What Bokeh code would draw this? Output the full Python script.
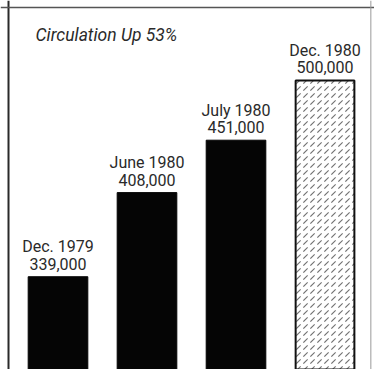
from bokeh.plotting import figure
from bokeh.models import Range1d, Label, ColumnDataSource, Span
from bokeh.core.properties import value
from bokeh.embed import file_html
from bokeh.resources import INLINE

periods = ["Dec. 1979", "June 1980", "July 1980", "Dec. 1980"]
circulation = [339000, 408000, 451000, 500000]
value_labels = ["339,000", "408,000", "451,000", "500,000"]
title_text = "Circulation Up 53%"

idx = list(range(len(periods)))
src = ColumnDataSource(dict(x=idx, top=circulation, period=periods, lab=value_labels))

p = figure(width=374, height=369, output_backend="svg", toolbar_location=None,
           x_range=Range1d(-0.646, 3.556), y_range=Range1d(262900, 565600),
           min_border=0)
p.axis.visible = False
p.grid.visible = False
p.background_fill_color = "white"
p.border_fill_color = "white"
p.outline_line_color = None

# frame lines (left, top, right) — bars run off the bottom edge
p.add_layout(Span(location=-0.556, dimension="height", line_color="#2a2a2a", line_width=2))
p.add_layout(Span(location=559900, dimension="width", line_color="#555555", line_width=1.5))
p.add_layout(Span(location=3.515, dimension="height", line_color="#999999", line_width=1))

solid = ColumnDataSource(dict(x=idx[:3], top=circulation[:3]))
p.vbar(x="x", top="top", bottom=0, width=0.67, source=solid,
       fill_color="#050505", line_color="#050505")
last = ColumnDataSource(dict(x=idx[3:], top=circulation[3:]))
p.vbar(x="x", top="top", bottom=0, width=0.66, source=last,
       fill_color="white", line_color="#111111", line_width=2,
       hatch_pattern=",", hatch_color="#707070", hatch_scale=7, hatch_weight=1.1)

p.text(x="x", y="top", text="lab", source=src, y_offset=-13,
       text_align="center", text_baseline="alphabetic",
       text_font=value("Roboto"), text_font_size="16px", text_color="#2a2a2a")
p.text(x="x", y="top", text="period", source=src, y_offset=-30,
       text_align="center", text_baseline="alphabetic",
       text_font=value("Roboto"), text_font_size="16px", text_color="#2a2a2a")

p.add_layout(Label(x=35, y=335, x_units="screen", y_units="screen", text=title_text,
                   text_font="Roboto", text_font_style="italic",
                   text_font_size="17.5px", text_color="#2a2a2a", text_baseline="alphabetic"))

open("out.html", "w").write(file_html(p, INLINE))
